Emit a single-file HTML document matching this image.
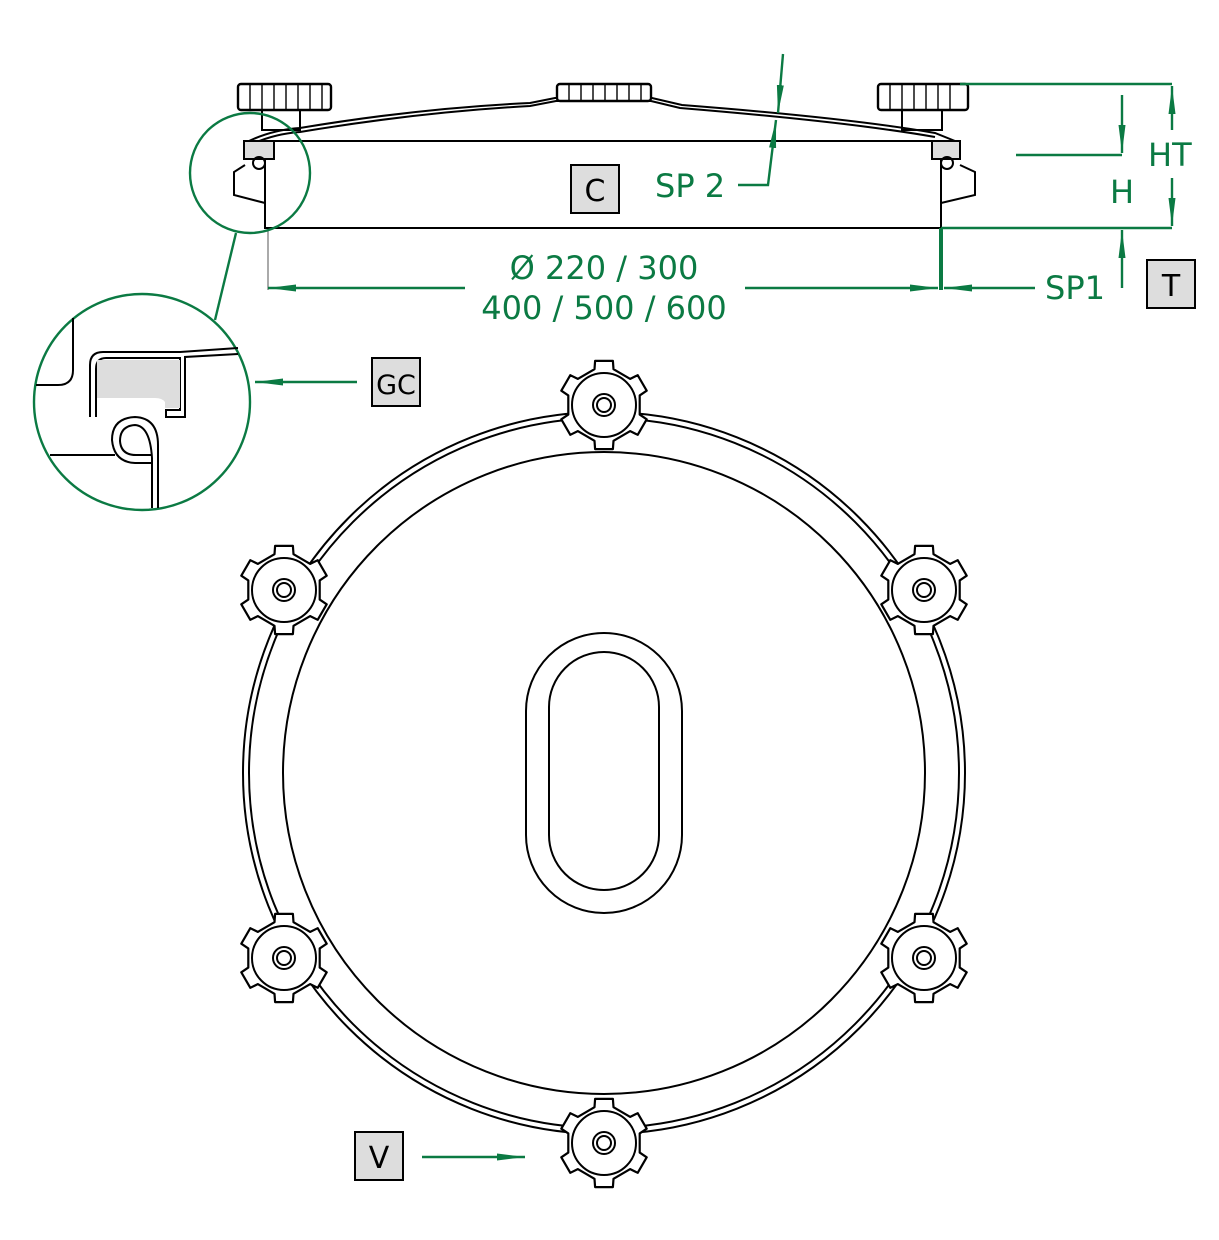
<!DOCTYPE html>
<html><head><meta charset="utf-8"><style>
html,body{margin:0;padding:0;background:#fff}
svg{display:block}
text{font-family:"DejaVu Sans","Liberation Sans",sans-serif}
</style></head><body>
<svg id="s" width="1219" height="1240" viewBox="0 0 1219 1240" xmlns="http://www.w3.org/2000/svg">
<defs>
<marker id="b" viewBox="0 0 28 10" refX="28" refY="5" markerWidth="28" markerHeight="10" markerUnits="userSpaceOnUse" orient="auto-start-reverse"><path d="M0,1.5 L28,5 L0,8.5z" fill="#0b7a43"/></marker>
<g id="knob"><path id="gear" d="" fill="#fff" stroke="#000" stroke-width="2.2" stroke-linejoin="round"/><circle r="32" fill="none" stroke="#000" stroke-width="2"/><circle r="11" fill="none" stroke="#000" stroke-width="2"/><circle r="7" fill="none" stroke="#000" stroke-width="2"/></g>
</defs>
<g fill="none" stroke="#000" stroke-width="2">
<circle cx="604" cy="773" r="361"/><circle cx="604" cy="773" r="355"/>
<circle cx="604" cy="773" r="321"/>
<rect x="526" y="633" width="156" height="280" rx="78"/>
<rect x="549" y="652" width="110" height="238" rx="55"/>
</g>
<use href="#knob" x="604" y="405"/><use href="#knob" x="604" y="1143"/>
<use href="#knob" x="284" y="590"/><use href="#knob" x="924" y="590"/>
<use href="#knob" x="284" y="958"/><use href="#knob" x="924" y="958"/>
<g fill="none" stroke="#000" stroke-width="2">
<rect x="265" y="141" width="676" height="87"/>
<path d="M245,143 Q270,130 300,128 Q420,108 530,103 L555,98 L652,98 L682,105 Q850,118 935,133 L960,143"/>
<path d="M248,146 Q272,134 300,132 Q420,112 530,106 L556,101 L651,101 L680,108 Q850,122 935,137"/>
<rect x="238" y="84" width="93" height="26" rx="3" fill="#fff" stroke-width="2.4"/>
<path d="M250,84v26M262,84v26M274,84v26M286,84v26M298,84v26M310,84v26M322,84v26" stroke-width="1.4"/>
<rect x="262" y="110" width="38" height="20"/>
<rect x="557" y="84" width="94" height="17" rx="3" fill="#fff" stroke-width="2.4"/>
<path d="M569,84v17M581,84v17M593,84v17M605,84v17M617,84v17M629,84v17M641,84v17" stroke-width="1.4"/>
<rect x="878" y="84" width="90" height="26" rx="3" fill="#fff" stroke-width="2.4"/>
<path d="M890,84v26M902,84v26M914,84v26M926,84v26M938,84v26M950,84v26" stroke-width="1.4"/>
<rect x="902" y="110" width="40" height="20"/>
<rect x="244" y="141" width="30" height="18" fill="#ddd"/>
<rect x="932" y="141" width="28" height="18" fill="#ddd"/>
<circle cx="259" cy="163" r="6"/><circle cx="947" cy="163" r="6"/>
<path d="M245,165 L234,172 L234,195 L265,203"/>
<path d="M960,165 L975,172 L975,195 L941,203"/>
<path d="M268,230 V290" stroke="#555" stroke-width="1"/>
</g>
<g fill="none" stroke="#0b7a43" stroke-width="2.4">
<ellipse cx="250" cy="173" rx="60" ry="60"/>
<circle cx="142" cy="402" r="108"/>
<path d="M236,233 L215,320"/>
</g>
<g fill="none" stroke="#000" stroke-width="2">
<path d="M73,318 V370 Q73,385 58,385 H36"/>
<path d="M90,417 V365 Q90,352 103,352 H180 L238,348"/>
<path d="M96,417 V369 Q96,358 106,358 H180 V410 H166 V417 H185 V357 L238,354"/>
<path d="M97,360 H180 V408 H165 V402 Q162,398 155,398 H97z" fill="#ddd" stroke="none"/>
<path d="M50,455 H115"/>
<path d="M158,508 V445 Q158,418 135,417 Q112,418 112,440 Q114,462 135,463 H152 V508"/>
<path d="M152,508 V458 Q150,426 135,425 Q120,426 120,441 Q121,455 136,455 H152"/>
</g>
<g stroke="#0b7a43" stroke-width="2.4" fill="none">
<path d="M268,288 H465" marker-start="url(#b)"/>
<path d="M745,288 H938" marker-end="url(#b)"/>
<path d="M941,228 V290" stroke-width="4"/>
<path d="M1035,288 H944" marker-end="url(#b)"/>
<path d="M960,84 H1172"/><path d="M941,228 H1172"/>
<path d="M1172,130 V86" marker-end="url(#b)"/><path d="M1172,178 V226" marker-end="url(#b)"/>
<path d="M1122,95 V153" marker-end="url(#b)"/><path d="M1016,155 H1122"/>
<path d="M1122,288 V230" marker-end="url(#b)"/>
<path d="M783,54 L778,113" marker-end="url(#b)"/>
<path d="M738,185 H768 L776,120" marker-end="url(#b)"/>
<path d="M357,382 H255" marker-end="url(#b)"/>
<path d="M422,1157 H525" marker-end="url(#b)"/>
</g>
<g fill="#0b7a43" font-size="32">
<text x="604" y="279" text-anchor="middle">Ø 220 / 300</text>
<text x="604" y="319" text-anchor="middle">400 / 500 / 600</text>
<text x="655" y="197">SP 2</text>
<text x="1045" y="299">SP1</text>
<text x="1148" y="166">HT</text>
<text x="1110" y="203">H</text>
</g>
<g stroke="#000" stroke-width="2" fill="#ddd">
<rect x="571" y="165" width="48" height="48"/>
<rect x="1147" y="260" width="48" height="48"/>
<rect x="372" y="358" width="48" height="48"/>
<rect x="355" y="1132" width="48" height="48"/>
</g>
<g fill="#000" font-size="30" text-anchor="middle">
<text x="595" y="201">C</text><text x="1171" y="296">T</text>
<text x="396" y="394" font-size="27">GC</text><text x="379" y="1168">V</text>
</g>
</svg>
<script>
var d="",n=6,R=45,r=37;
for(var i=0;i<n;i++){var a0=i*2*Math.PI/n-Math.PI/2;
var pts=[[r,a0-0.26],[R,a0-0.2],[R,a0+0.2],[r,a0+0.26],[r,a0+2*Math.PI/n-0.26]];
pts.forEach(function(p,j){var x=(p[0]*Math.cos(p[1])).toFixed(1),y=(p[0]*Math.sin(p[1])).toFixed(1);d+=(i==0&&j==0?"M":"L")+x+","+y;});}
document.getElementById("gear").setAttribute("d",d+"Z");
</script>
</body></html>
